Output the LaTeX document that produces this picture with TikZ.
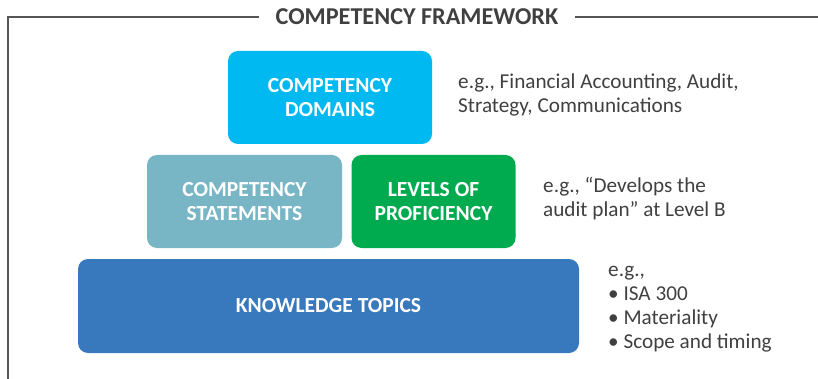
\documentclass[tikz,border=0pt]{standalone}
\usepackage{fontspec}
\setmainfont{Carlito}
\definecolor{domc}{HTML}{00B9F1}
\definecolor{stmc}{HTML}{78B5C5}
\definecolor{profc}{HTML}{00AA4F}
\definecolor{knowc}{HTML}{3878BD}
\definecolor{txtc}{HTML}{404040}
\definecolor{framec}{HTML}{555555}
\begin{document}
\begin{tikzpicture}[x=1pt,y=-1pt,
  box/.style={rounded corners=10pt, fill=#1, text=white, inner sep=0pt,
    font=\bfseries\fontsize{21.5}{24}\selectfont, align=center},
  noteline/.style={anchor=base west, inner sep=0pt, text=txtc,
    font=\fontsize{21.2}{24}\selectfont},
  frameline/.style={draw=framec, line width=1.2pt}]
\useasboundingbox (0,0) rectangle (818,379);
% title and frame
\node[inner xsep=16pt, inner ysep=0pt, text height=15.5pt, text depth=0pt,
  text=txtc, font=\bfseries\fontsize{24.2}{28}\selectfont] (title) at (417,17) {COMPETENCY FRAMEWORK};
\coordinate (frameTL) at (8,17);
\coordinate (frameBL) at (8,379);
\coordinate (frameTR) at (818,17);
\draw[frameline] (title.west) -- (frameTL) -- (frameBL);
\draw[frameline] (title.east) -- (frameTR);
% boxes
\node[box=domc, minimum width=204pt, minimum height=93pt] (dom) at (330,97.5) {COMPETENCY\\DOMAINS};
\node[box=stmc, minimum width=195pt, minimum height=93pt] (stm) at (244.5,201.5) {COMPETENCY\\STATEMENTS};
\node[box=profc, minimum width=164pt, minimum height=93pt] (prof) at (433.5,201.5) {LEVELS OF\\PROFICIENCY};
\node[box=knowc, minimum width=501pt, minimum height=94pt] (know) at (328.5,306) {KNOWLEDGE TOPICS};
% notes
\node[noteline] (n1a) at (458,89) {e.g., Financial Accounting, Audit,};
\node[noteline] (n1b) at (458,113) {Strategy, Communications};
\node[noteline] (n2a) at (543,193) {e.g., “Develops the};
\node[noteline] (n2b) at (543,217) {audit plan” at Level B};
\node[noteline] (n3a) at (608,276.5) {e.g.,};
\node[noteline] (n3b) at (608,300.5) {• ISA 300};
\node[noteline] (n3c) at (608,324.5) {• Materiality};
\node[noteline] (n3d) at (608,348.5) {• Scope and timing};
\end{tikzpicture}
\end{document}
